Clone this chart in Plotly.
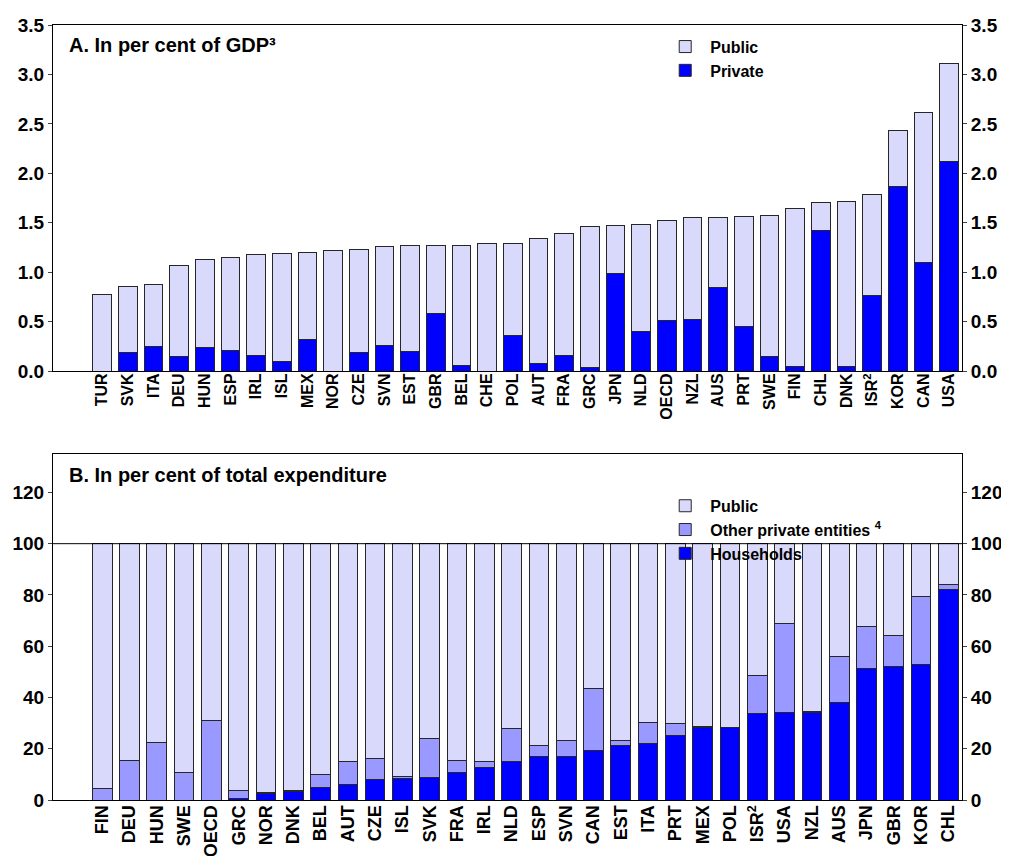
import plotly.graph_objects as go

# ---------- Panel A: in per cent of GDP ----------
cats_a = ["TUR", "SVK", "ITA", "DEU", "HUN", "ESP", "IRL", "ISL", "MEX", "NOR", "CZE",
          "<b>SVN</b>", "EST", "GBR", "BEL", "CHE", "POL", "AUT", "FRA", "GRC", "JPN", "NLD",
          "OECD", "NZL", "AUS", "PRT", "SWE", "FIN", "CHL", "DNK", "ISR<sup>2</sup>",
          "KOR", "CAN", "USA"]
private_a = [0.00, 0.19, 0.25, 0.15, 0.24, 0.21, 0.16, 0.10, 0.32, 0.00, 0.19,
             0.26, 0.20, 0.58, 0.06, 0.00, 0.36, 0.08, 0.16, 0.04, 0.99, 0.40,
             0.51, 0.52, 0.85, 0.45, 0.15, 0.05, 1.42, 0.05, 0.76,
             1.87, 1.10, 2.12]
public_a = [0.77, 0.67, 0.63, 0.92, 0.89, 0.94, 1.02, 1.09, 0.88, 1.22, 1.04,
            1.00, 1.07, 0.69, 1.21, 1.29, 0.93, 1.26, 1.23, 1.42, 0.48, 1.08,
            1.01, 1.03, 0.70, 1.11, 1.42, 1.59, 0.28, 1.66, 1.03,
            0.56, 1.52, 0.99]

# ---------- Panel B: in per cent of total expenditure ----------
cats_b = ["FIN", "DEU", "HUN", "SWE", "OECD", "GRC", "NOR", "DNK", "BEL", "AUT", "CZE",
          "ISL", "SVK", "FRA", "IRL", "NLD", "ESP", "<b>SVN</b>", "CAN", "EST", "ITA", "PRT",
          "MEX", "POL", "ISR<sup>2</sup>", "USA", "NZL", "AUS", "JPN", "GBR", "KOR", "CHL"]
households_b = [0.0, 0.0, 0.0, 0.0, 0.0, 0.6, 2.6, 3.3, 4.8, 6.1, 8.1,
                8.4, 8.7, 10.6, 12.6, 15.2, 16.9, 16.9, 19.5, 21.2, 22.1, 25.2,
                28.2, 28.4, 33.6, 34.3, 34.3, 38.2, 51.2, 51.9, 52.9, 82.3]
other_b = [4.5, 15.3, 22.3, 10.8, 31.0, 3.0, 0.5, 0.3, 5.2, 8.8, 8.1,
           0.7, 15.2, 5.0, 2.3, 12.7, 4.3, 6.2, 24.1, 1.9, 8.2, 4.7,
           0.6, 0.0, 14.8, 34.4, 0.4, 17.6, 16.3, 12.4, 26.3, 1.9]
public_b = [95.5, 84.7, 77.7, 89.2, 69.0, 96.4, 96.9, 96.4, 90.0, 85.1, 83.8,
            90.9, 76.1, 84.4, 85.1, 72.1, 78.8, 76.9, 56.4, 76.9, 69.7, 70.1,
            71.2, 71.6, 51.6, 31.3, 65.3, 44.2, 32.5, 35.7, 20.8, 15.8]

C_PUBLIC = "#D9D9FC"
C_OTHER = "#9999FF"
C_PRIVATE = "#0000FF"
LINE = dict(color="#262626", width=1)
FONT = "Liberation Sans, Arial, sans-serif"

fig = go.Figure()

fig.add_trace(go.Bar(x=cats_a, y=private_a, name="Private", marker=dict(color=C_PRIVATE, line=LINE),
                     xaxis="x", yaxis="y", legend="legend"))
fig.add_trace(go.Bar(x=cats_a, y=public_a, name="Public", marker=dict(color=C_PUBLIC, line=LINE),
                     xaxis="x", yaxis="y", legend="legend"))

fig.add_trace(go.Bar(x=cats_b, y=households_b, name="Households", marker=dict(color=C_PRIVATE, line=LINE),
                     xaxis="x2", yaxis="y2", legend="legend2"))
fig.add_trace(go.Bar(x=cats_b, y=other_b, name="Other private entities <sup>4</sup>",
                     marker=dict(color=C_OTHER, line=LINE),
                     xaxis="x2", yaxis="y2", legend="legend2"))
fig.add_trace(go.Bar(x=cats_b, y=public_b, name="Public", marker=dict(color=C_PUBLIC, line=LINE),
                     xaxis="x2", yaxis="y2", legend="legend2"))

axis_common = dict(showline=True, linecolor="black", linewidth=1, showgrid=False, zeroline=False,
                   automargin=False)
ytick_font = dict(family=FONT, size=19, color="black", weight="bold")
xtick_font_a = dict(family=FONT, size=16, color="black", weight="bold")
xtick_font_b = dict(family=FONT, size=18, color="black", weight="bold")

dom_a = [0.5535, 1.0]
dom_b = [0.0, 0.4465]

# the page body adds an 8px margin, so the figure is 8px smaller than the window
fig.update_layout(
    width=1001, height=848,
    margin=dict(l=45, r=47, t=17, b=56),
    paper_bgcolor="white", plot_bgcolor="white",
    barmode="stack",
    font=dict(family=FONT, color="black"),
    xaxis=dict(domain=[0, 1], anchor="y", tickangle=-90, tickfont=xtick_font_a, ticks="",
               ticklabelstandoff=-5, mirror=True, **axis_common),
    yaxis=dict(domain=dom_a, anchor="x", range=[0, 3.5], dtick=0.5, tickformat=".1f",
               ticks="outside", ticklen=4, tickfont=ytick_font, **axis_common),
    yaxis3=dict(overlaying="y", side="right", anchor="x", range=[0, 3.5], dtick=0.5,
                tickformat=".1f", ticks="outside", ticklen=4, tickfont=ytick_font, **axis_common),
    xaxis2=dict(domain=[0, 1], anchor="y2", tickangle=-90, tickfont=xtick_font_b, ticks="",
                ticklabelstandoff=-3, mirror=True, **axis_common),
    yaxis2=dict(domain=dom_b, anchor="x2", range=[0, 135], dtick=20,
                ticks="outside", ticklen=4, tickfont=ytick_font, **axis_common),
    yaxis4=dict(overlaying="y2", side="right", anchor="x2", range=[0, 135], dtick=20,
                ticks="outside", ticklen=4, tickfont=ytick_font, **axis_common),
    bargap=0.28,
    legend=dict(x=0.668, y=0.994, xanchor="left", yanchor="top", traceorder="reversed",
                font=dict(family=FONT, size=16, color="black", weight="bold"),
                bgcolor="rgba(0,0,0,0)", itemwidth=40, tracegroupgap=0),
    legend2=dict(x=0.668, y=0.4015, xanchor="left", yanchor="top", traceorder="reversed",
                 font=dict(family=FONT, size=16, color="black", weight="bold"),
                 bgcolor="rgba(0,0,0,0)", itemwidth=40, tracegroupgap=0),
    annotations=[
        dict(text="A. In per cent of GDP³", xref="paper", yref="paper", x=0.015, y=0.9745,
             xanchor="left", yanchor="middle", showarrow=False,
             font=dict(family=FONT, size=20, color="black", weight="bold")),
        dict(text="B. In per cent of total expenditure", xref="paper", yref="paper", x=0.015,
             y=0.419, xanchor="left", yanchor="middle", showarrow=False,
             font=dict(family=FONT, size=20, color="black", weight="bold")),
    ],
    shapes=[
        dict(type="line", xref="x2 domain", yref="y2", x0=0, x1=1, y0=100, y1=100,
             line=dict(color="black", width=1)),
    ],
)

# invisible helpers so the right-hand axes are drawn
fig.add_trace(go.Scatter(x=[cats_a[0]], y=[0], xaxis="x", yaxis="y3", mode="markers",
                         marker=dict(opacity=0), showlegend=False, hoverinfo="skip"))
fig.add_trace(go.Scatter(x=[cats_b[0]], y=[0], xaxis="x2", yaxis="y4", mode="markers",
                         marker=dict(opacity=0), showlegend=False, hoverinfo="skip"))

fig.write_html("out.html")
